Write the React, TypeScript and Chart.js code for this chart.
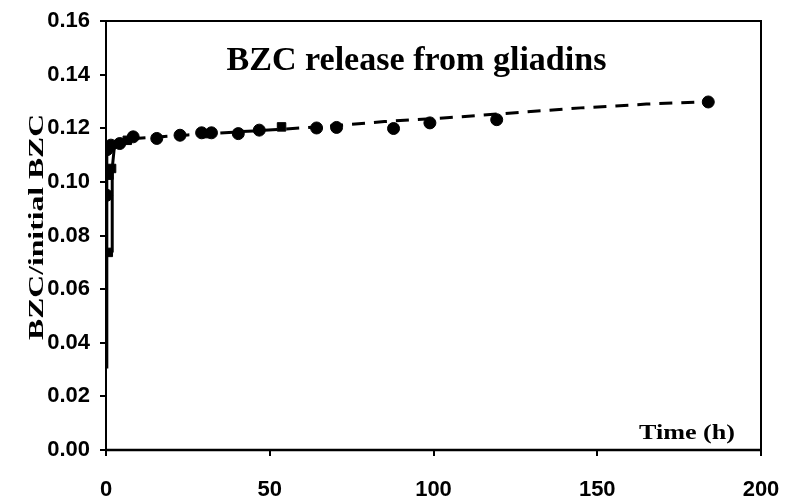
import React, { useEffect, useRef } from "react";
import { Chart, registerables } from "chart.js";

Chart.register(...registerables);

const TITLE = "BZC release from gliadins";
const Y_TITLE = "BZC/initial BZC";
const X_TITLE = "Time (h)";

const xTickValues = [0, 50, 100, 150, 200];
const yTickValues = [0, 0.02, 0.04, 0.06, 0.08, 0.1, 0.12, 0.14, 0.16];

// measured points (circles)
const circleTimes = [0.2, 0.3, 1.5, 4.2, 8.3, 15.5, 22.6, 29.2, 32.2, 40.4, 46.8, 64.3, 70.4, 87.8, 98.9, 119.3, 183.9];
const circleValues = [0.095, 0.112, 0.1137, 0.1143, 0.1168, 0.1162, 0.1174, 0.1183, 0.1183, 0.118, 0.1193, 0.1201, 0.1203, 0.1199, 0.122, 0.1232, 0.1298];

// measured points (squares)
const squareTimes = [0.7, 0.9, 1.7, 6.5, 30.5, 53.6];
const squareValues = [0.0737, 0.1025, 0.105, 0.1155, 0.118, 0.1205];

// early fit (solid)
const fitEarlyTimes = [0.2, 0.2, 0.3, 1.0, 3.0, 8.0];
const fitEarlyValues = [0.031, 0.095, 0.112, 0.1138, 0.115, 0.1166];

// second early trace (solid)
const fitEarly2Times = [1.9, 1.9, 2.6];
const fitEarly2Values = [0.0737, 0.105, 0.1135];

// late fit (dashed)
const fitLateTimes = [1.5, 10, 25, 45, 65, 85, 105, 125, 145, 165, 184];
const fitLateValues = [0.1145, 0.1163, 0.1175, 0.119, 0.1205, 0.1225, 0.124, 0.1258, 0.1276, 0.129, 0.1299];

const zip = (xs: number[], ys: number[]) => xs.map((x, i) => ({ x, y: ys[i] }));

const SERIF = "'Liberation Serif', 'Times New Roman', serif";
const SANS = "'Liberation Sans', Arial, sans-serif";

const decorPlugin = {
  id: "decor",
  afterDraw(chart: any) {
    const { ctx, chartArea: a } = chart;
    const w = a.right - a.left;
    ctx.save();
    ctx.strokeStyle = "#000";
    ctx.lineWidth = 2;
    ctx.strokeRect(a.left, a.top, w, a.bottom - a.top);
    ctx.lineWidth = 2.5;
    ctx.beginPath();
    ctx.moveTo(a.left, a.bottom);
    ctx.lineTo(a.right, a.bottom);
    ctx.stroke();

    ctx.fillStyle = "#000";
    // chart title inside plot area
    ctx.font = `bold 34px ${SERIF}`;
    ctx.textBaseline = "alphabetic";
    ctx.textAlign = "center";
    {
      const tw = ctx.measureText(TITLE).width;
      const target = 380;
      ctx.save();
      ctx.translate(a.left + 0.474 * w, a.top + 49);
      ctx.scale(target / tw, 1);
      ctx.fillText(TITLE, 0, 0);
      ctx.restore();
    }
    // x title inside plot area, bottom-right
    ctx.font = `bold 21px ${SERIF}`;
    ctx.textAlign = "right";
    {
      const tw = ctx.measureText(X_TITLE).width;
      const target = 96;
      ctx.save();
      ctx.translate(a.right - 26, a.bottom - 11);
      ctx.scale(target / tw, 1);
      ctx.fillText(X_TITLE, 0, 0);
      ctx.restore();
    }
    // y title rotated
    ctx.font = `bold 21px ${SERIF}`;
    ctx.textAlign = "center";
    ctx.textBaseline = "middle";
    {
      const tw = ctx.measureText(Y_TITLE).width;
      const target = 226;
      ctx.save();
      ctx.translate(38, a.top + 0.48 * (a.bottom - a.top));
      ctx.rotate(-Math.PI / 2);
      ctx.scale(target / tw, 1);
      ctx.fillText(Y_TITLE, 0, 0);
      ctx.restore();
    }
    ctx.restore();
  },
};

export default function App() {
  const ref = useRef<HTMLCanvasElement | null>(null);

  useEffect(() => {
    document.body.style.margin = "0";
    if (!ref.current) return;
    const tickFont = { family: SANS, weight: "bold" as const, size: 22 };
    const chart = new Chart(ref.current, {
      type: "scatter",
      data: {
        datasets: [
          {
            label: "fit late",
            data: zip(fitLateTimes, fitLateValues),
            showLine: true,
            borderColor: "#000",
            borderWidth: 3,
            borderDash: [13, 9],
            pointRadius: 0,
            fill: false,
          },
          {
            label: "fit early",
            data: zip(fitEarlyTimes, fitEarlyValues),
            showLine: true,
            borderColor: "#000",
            borderWidth: 3,
            pointRadius: 0,
            fill: false,
          },
          {
            label: "fit early 2",
            data: zip(fitEarly2Times, fitEarly2Values),
            showLine: true,
            borderColor: "#000",
            borderWidth: 3,
            pointRadius: 0,
            fill: false,
          },
          {
            label: "circles",
            data: zip(circleTimes, circleValues),
            showLine: false,
            pointStyle: "circle",
            pointRadius: 6,
            backgroundColor: "#000",
            borderColor: "#000",
          },
          {
            label: "squares",
            data: zip(squareTimes, squareValues),
            showLine: false,
            pointStyle: "rect",
            pointRadius: 6,
            backgroundColor: "#000",
            borderColor: "#000",
          },
        ],
      },
      options: {
        responsive: false,
        animation: false,
        layout: { padding: { left: 0, right: 30, top: 21, bottom: 0 } },
        plugins: {
          legend: { display: false },
          title: { display: false },
          tooltip: { enabled: false },
        },
        scales: {
          x: {
            type: "linear",
            min: 0,
            max: 200,
            afterFit: (s: any) => {
              s.height = 52;
              s.paddingLeft = 0;
              s.paddingRight = 0;
            },
            afterBuildTicks: (s: any) => {
              s.ticks = xTickValues.map((v) => ({ value: v }));
            },
            ticks: { font: tickFont, color: "#000", padding: 21, maxRotation: 0 },
            grid: {
              display: true,
              drawOnChartArea: false,
              drawTicks: true,
              tickLength: 6,
              color: "#000",
              lineWidth: 2,
            },
            border: { display: false },
          },
          y: {
            type: "linear",
            min: 0,
            max: 0.16,
            afterFit: (s: any) => {
              s.width = 106;
              s.paddingTop = 0;
              s.paddingBottom = 0;
            },
            afterBuildTicks: (s: any) => {
              s.ticks = yTickValues.map((v) => ({ value: v }));
            },
            ticks: {
              font: tickFont,
              color: "#000",
              padding: 10,
              callback: (v: any) => Number(v).toFixed(2),
            },
            grid: {
              display: true,
              drawOnChartArea: false,
              drawTicks: true,
              tickLength: 6,
              color: "#000",
              lineWidth: 2,
            },
            border: { display: false },
          },
        },
      },
      plugins: [decorPlugin],
    } as any);
    return () => chart.destroy();
  }, []);

  return (
    <div style={{ width: 791, height: 502, background: "#fff" }}>
      <canvas ref={ref} width={791} height={502} />
    </div>
  );
}
